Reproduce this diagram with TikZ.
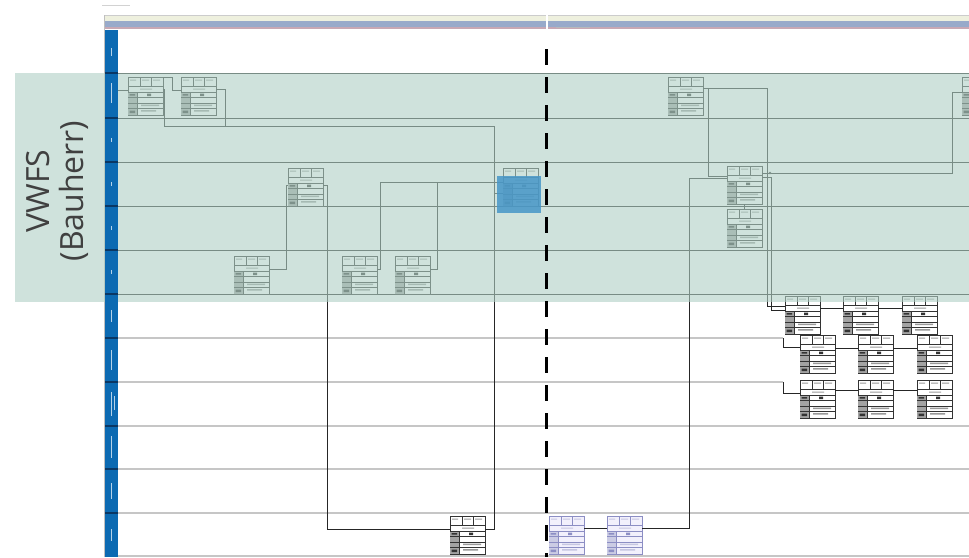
\documentclass[tikz,border=0pt]{standalone}
\usepackage{fontspec}
\newfontfamily\labelfont{Open Sans}
\usetikzlibrary{calc}

\definecolor{lanegreen}{RGB}{175,208,197}
\definecolor{laneblue}{RGB}{12,106,178}
\definecolor{lanenavy}{RGB}{10,55,100}
\definecolor{hdrcream}{RGB}{238,240,222}
\definecolor{hdrblue}{RGB}{152,170,202}
\definecolor{hdrmauve}{RGB}{200,168,180}
\definecolor{marker}{RGB}{70,150,200}
\definecolor{lavline}{RGB}{140,142,196}
\definecolor{lavfill}{RGB}{242,240,252}
\colorlet{boxline}{black!80}

\tikzset{
  procnode/.style={draw, fill=white, minimum width=35pt, minimum height=38pt,
    inner sep=0pt, outer sep=0pt, line width=0.75pt},
  conn/.style={draw=black!85, line width=0.7pt},
  lane/.style={draw=gray!45, line width=1.4pt},
  darklane/.style={draw=black!85, line width=1pt},
}

% one process card: line colour, fill, name, x, y (top left)
\newcommand{\drawbox}[5]{%
  \begin{scope}[shift={(#4,#5)}, color=#1]
    \node[procnode, draw=#1, fill=#2] (#3) at (17.5,19) {};
    \fill[#1!45] (0,15) rectangle (9,38);
    \draw[line width=0.55pt] (0,9) -- (35,9) (0,15) -- (35,15) (9,15) -- (9,38)
      (12,0) -- (12,9) (23,0) -- (23,9);
    \foreach \r in {20.5,26,31.5} \draw[line width=0.55pt] (0,\r) -- (35,\r);
    \fill[#1!50] (2,2.5) rectangle (8,3.5) (14,2.5) rectangle (21,3.5)
      (25,2.5) rectangle (32,3.5) (12,11.5) rectangle (24,12.5)
      (13,27.5) rectangle (31,29) (13,33) rectangle (28,34.5);
    \fill[#1] (19,16.5) rectangle (23,19) (1.5,17) rectangle (7,18.5)
      (1.5,33.5) rectangle (7,36);
  \end{scope}}
\newcommand{\procbox}[3]{\drawbox{boxline}{white}{#1}{#2}{#3}}
\newcommand{\lavbox}[3]{\drawbox{lavline}{lavfill}{#1}{#2}{#3}}

\begin{document}
\begin{tikzpicture}[x=1pt, y=-1pt]
\useasboundingbox (0,0) rectangle (969,557);
\fill[white] (0,0) rectangle (969,557);

% header
\draw[gray!35, line width=0.8pt] (102,5.5) -- (130,5.5);
\fill[hdrcream] (105,15) rectangle (969,21);
\fill[hdrblue] (105,21) rectangle (969,27);
\fill[hdrmauve] (105,27) rectangle (969,28.5);
\draw[gray!40, line width=0.5pt] (105,15) -- (969,15);
\fill[white] (546,14) rectangle (548,29);
\fill[gray!55] (556,27.3) rectangle (590,28.3);
\draw[gray!50, line width=0.6pt] (104.5,15) -- (104.5,557);

% lanes
\foreach \y in {73,118,162,206,250,294}
  \draw[darklane] (118,\y) -- (969,\y);
\foreach \y in {426,469,513,556}
  \draw[lane] (118,\y) -- (969,\y);
\coordinate (hook1) at (783,338);
\coordinate (hook2) at (783,382);
\draw[lane] (118,338) -- (hook1);
\draw[lane] (118,382) -- (hook2);

% process cards
\procbox{b1}{128}{77}
\procbox{b2}{181}{77}
\procbox{b3}{288}{168}
\procbox{b4}{234}{256}
\procbox{b5}{342}{256}
\procbox{b6}{395}{256}
\procbox{b7}{503}{168}
\procbox{b8}{450}{516}
\lavbox{b9}{549}{516}
\lavbox{b10}{607}{516}
\procbox{b11}{668}{77}
\procbox{b12}{727}{166}
\procbox{b13}{727}{209}
\procbox{b14}{962}{77}
\procbox{b15}{785}{296}
\procbox{b16}{843}{296}
\procbox{b17}{902}{296}
\procbox{b18}{800}{335}
\procbox{b19}{858}{335}
\procbox{b20}{917}{335}
\procbox{b21}{800}{380}
\procbox{b22}{858}{380}
\procbox{b23}{917}{380}

% connectors, left part
\coordinate (in1) at (118,90);
\draw[conn] (in1) -- (in1 -| b1.west);
\draw[conn] (b1.north east) -- ++(9,0) |- ($(b2.north west)+(0,13)$);
\draw[conn] ($(b1.north east)+(0,12)$) -| (164,126) -| (494,529) -- ($(b8.north east)+(0,13)$);
\draw[conn] ($(b2.north east)+(0,12)$) -| (225,126);
\draw[conn] ($(b4.north east)+(0,13)$) -| (286,185) -- ($(b3.north west)+(0,17)$);
\draw[conn] ($(b3.north east)+(0,17)$) -| (327,529) -- ($(b8.north west)+(0,13)$);
\draw[conn] ($(b5.north east)+(0,13)$) -| (380,182) -- ($(b7.north west)+(0,14)$);
\draw[conn] ($(b6.north east)+(0,13)$) -| (437,182);
\draw[conn] ($(b7.north west)+(0,25)$) -- ++(-9,0);

% connectors, right part
\draw[conn] ($(b9.north east)+(0,12)$) -- ($(b10.north west)+(0,12)$);
\draw[conn] ($(b10.north east)+(0,12)$) -| (689,178) -- ($(b12.north west)+(0,12)$);
\draw[conn] ($(b11.north east)+(0,11)$) -| (708,176) -- ($(b12.north west)+(0,10)$);
\draw[conn] ($(b11.north east)+(0,11)$) -| (767,306) -- ($(b15.north west)+(0,10)$);
\draw[conn] ($(b12.north east)+(0,11)$) -| (771,310) -- ($(b15.north west)+(0,14)$);
\draw[conn] ($(b12.north east)+(0,7)$) -| (952,92) -- ($(b14.north west)+(0,15)$);
\fill[black!80] (770,173) circle (1.3);
\draw[conn] (b12.south) -- (b13.north);
\draw[conn] ($(b15.north east)+(0,12)$) -- ($(b16.north west)+(0,12)$);
\draw[conn] ($(b16.north east)+(0,12)$) -- ($(b17.north west)+(0,12)$);
\draw[conn] (hook1) |- ($(b18.north west)+(0,12)$);
\draw[conn] ($(b18.north east)+(0,13)$) -- ($(b19.north west)+(0,13)$);
\draw[conn] ($(b19.north east)+(0,13)$) -- ($(b20.north west)+(0,13)$);
\draw[conn] (hook2) |- ($(b21.north west)+(0,13)$);
\draw[conn] ($(b21.north east)+(0,10)$) -- ($(b22.north west)+(0,10)$);
\draw[conn] ($(b22.north east)+(0,10)$) -- ($(b23.north west)+(0,10)$);

% client area
\fill[lanegreen, fill opacity=0.6] (15,73) rectangle (969,302);

% lane header column
\fill[laneblue] (105,30) rectangle (118,557);
\foreach \y in {73,118,162,206,250,294,338,382,426,469,513}
  \draw[lanenavy, line width=1.2pt] (105,\y) -- (118,\y);
\foreach \y/\l in {52/8, 93/20, 140/4, 184/4, 228/4, 272/4, 316/12,
                   360/20, 404/24, 447/22, 491/16, 535/12}
  \fill[white, fill opacity=0.7] (111,{\y-\l/2}) rectangle (112.3,{\y+\l/2});
\fill[white, fill opacity=0.7] (114,396) rectangle (115,410);

% selected card
\fill[marker, fill opacity=0.85] (497,176) rectangle (541,213);

% cut line
\draw[line width=3pt, dash pattern=on 16pt off 12pt] (546,49) -- (546,557);

\node[rotate=90, align=center, text=black!75,
  font=\labelfont\fontsize{32}{34}\selectfont] (vwfs) at (57,191) {VWFS\\(Bauherr)};
\end{tikzpicture}
\end{document}
